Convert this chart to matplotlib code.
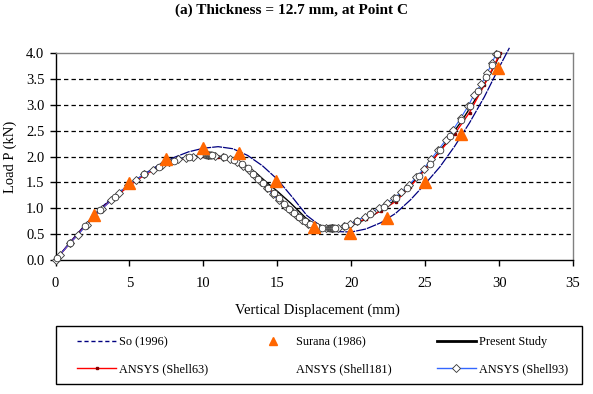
import matplotlib
matplotlib.use("Agg")
import matplotlib.pyplot as plt
from matplotlib.lines import Line2D
from matplotlib.patches import Rectangle

plt.rcParams['font.family'] = ['Liberation Serif', 'DejaVu Serif']

# ---------------- data ----------------
so_x = [0, 1, 2, 3, 4, 5, 6, 7, 8, 9, 10, 11, 12, 13, 14, 15, 16, 17, 18, 19, 20,
        21, 22, 23, 24, 25, 26, 27, 28, 29, 30, 30.7]
so_y = [0, 0.35, 0.68, 0.99, 1.24, 1.46, 1.66, 1.84, 1.98, 2.09, 2.16, 2.19, 2.15, 2.02,
        1.82, 1.56, 1.22, 0.86, 0.64, 0.55, 0.54, 0.6, 0.72, 0.9, 1.16, 1.47, 1.8, 2.2,
        2.65, 3.15, 3.72, 4.1]

surana_x = [2.6, 4.95, 7.5, 9.95, 12.4, 14.9, 17.45, 19.9, 22.4, 25.0, 27.4, 29.95]
surana_y = [0.87, 1.48, 1.95, 2.17, 2.07, 1.52, 0.63, 0.53, 0.81, 1.5, 2.44, 3.71]

present_x = [0, 1, 2, 3, 4, 5, 6, 7, 8, 9, 10, 11, 12, 12.8, 13.5, 14.2, 15, 15.9, 16.9,
             17.7, 18.5, 19.5, 20.5, 21.5, 22.5, 23.5, 24.5, 25.5, 26.5, 27.5, 28.5, 29.5, 30]
present_y = [0, 0.34, 0.66, 0.97, 1.22, 1.45, 1.65, 1.81, 1.93, 2.0, 2.03, 2.01, 1.95, 1.83,
             1.7, 1.52, 1.33, 1.1, 0.82, 0.65, 0.6, 0.62, 0.72, 0.87, 1.05, 1.3, 1.6, 1.93,
             2.3, 2.7, 3.15, 3.65, 3.93]

shell63_x = [0, 1, 2, 3, 4, 5, 6, 7, 8, 9, 10, 11, 12, 13, 14, 15, 16, 17, 18, 19, 20,
             21, 22, 23, 24, 25, 26, 27, 28, 29, 30, 30.07]
shell63_y = [0, 0.33, 0.65, 0.96, 1.21, 1.44, 1.64, 1.79, 1.91, 1.98, 2.01, 1.99, 1.91,
             1.76, 1.5, 1.22, 0.95, 0.74, 0.63, 0.61, 0.68, 0.8, 0.95, 1.13, 1.42, 1.75,
             2.1, 2.44, 2.85, 3.38, 3.95, 4.0]

shell181_x = [0.1, 1.0, 2.0, 3.0, 4.0, 5.0, 6.0, 7.0, 8.0, 9.0, 10.2, 10.25, 10.3, 10.35,
              10.4, 10.45, 10.5, 10.55, 10.6, 11.4, 12.1, 12.6, 13.0, 13.35, 13.7, 14.05,
              14.4, 14.75, 15.1, 15.45, 15.8, 16.15, 16.5, 16.85, 17.2, 17.6, 18.0, 18.5,
              18.55, 18.6, 18.65, 18.7, 18.75, 18.8, 18.85, 18.9, 19.6, 20.4, 21.3, 22.2,
              23.0, 23.8, 24.6, 25.3, 26.0, 26.7, 27.4, 28.0, 28.6, 29.1, 29.5, 29.85]
shell181_y = [0.03, 0.33, 0.66, 0.97, 1.21, 1.45, 1.66, 1.8, 1.92, 1.99, 2.02, 2.02, 2.02,
              2.02, 2.02, 2.02, 2.02, 2.02, 2.02, 1.99, 1.93, 1.86, 1.77, 1.67, 1.57, 1.48,
              1.39, 1.29, 1.19, 1.09, 0.99, 0.91, 0.83, 0.76, 0.7, 0.65, 0.62, 0.61, 0.61,
              0.61, 0.61, 0.61, 0.61, 0.61, 0.61, 0.61, 0.66, 0.75, 0.88, 1.03, 1.19, 1.39,
              1.62, 1.86, 2.12, 2.4, 2.7, 2.98, 3.27, 3.53, 3.76, 3.98]

shell93_x = [0, 0.3, 1.0, 1.5, 2.1, 2.6, 3.15, 3.76, 4.3, 4.9, 5.45, 6.0, 6.6, 7.2, 7.7,
             8.3, 8.8, 9.3, 9.8, 10.3, 10.8, 11.3, 11.8, 12.3, 12.7, 13.1, 13.5, 13.9,
             14.3, 14.7, 15.1, 15.5, 15.9, 16.3, 16.7, 17.1, 17.5, 17.9, 18.3, 18.7, 19.1,
             19.5, 19.9, 20.4, 20.9, 21.4, 21.9, 22.4, 22.9, 23.4, 23.9, 24.4, 24.9, 25.4,
             25.9, 26.4, 26.9, 27.4, 27.9, 28.3, 28.8, 29.2, 29.5, 29.8]
shell93_y = [0, 0.1, 0.33, 0.48, 0.68, 0.83, 0.99, 1.15, 1.3, 1.45, 1.55, 1.66, 1.74, 1.84,
             1.9, 1.95, 1.98, 2.0, 2.02, 2.02, 2.01, 1.99, 1.95, 1.89, 1.82, 1.73, 1.62,
             1.5, 1.39, 1.27, 1.15, 1.04, 0.94, 0.85, 0.77, 0.7, 0.65, 0.62, 0.61, 0.61,
             0.62, 0.65, 0.7, 0.76, 0.84, 0.92, 1.01, 1.1, 1.2, 1.31, 1.45, 1.6, 1.76, 1.95,
             2.13, 2.32, 2.52, 2.74, 2.97, 3.19, 3.4, 3.61, 3.8, 3.98]

x_ticks = [0, 5, 10, 15, 20, 25, 30, 35]
y_ticks = [0.0, 0.5, 1.0, 1.5, 2.0, 2.5, 3.0, 3.5, 4.0]
y_tick_labels = ["0.0", "0.5", "1.0", "1.5", "2.0", "2.5", "3.0", "3.5", "4.0"]

title = "(a) Thickness = 12.7 mm, at Point C"
xlabel = "Vertical Displacement (mm)"
ylabel = "Load P (kN)"
labels = ["So (1996)", "Surana (1986)", "Present Study",
          "ANSYS (Shell63)", "ANSYS (Shell181)", "ANSYS (Shell93)"]

# ---------------- figure ----------------
W, H = 593, 394
fig = plt.figure(figsize=(W / 100, H / 100), dpi=100)
L, R, T, B = 55.5, 573, 53, 260
ax = fig.add_axes([L / W, 1 - B / H, (R - L) / W, (B - T) / H])

ax.set_xlim(0, 35)
ax.set_ylim(0, 4)

for yv in y_ticks[1:-1]:
    ax.axhline(yv, color='black', lw=0.9, linestyle=(0, (3.5, 2.5)), zorder=0)

navy = '#000080'
orange = '#FF6600'

ax.plot(present_x, present_y, color='black', lw=1.0, zorder=2, clip_on=False)
ax.plot(so_x, so_y, color=navy, lw=0.9, linestyle=(0, (8, 0.8)), zorder=3, clip_on=False)
ax.plot(shell63_x, shell63_y, color='#FF0000', lw=1.0, marker='s', ms=2,
        mfc='#800000', mec='#800000', zorder=4, clip_on=False)
ax.plot(shell93_x, shell93_y, color='#3366FF', lw=0.8, marker='D', ms=4.2,
        mfc='white', mec='#333333', mew=0.6, zorder=5, clip_on=False)
ax.plot(shell181_x, shell181_y, linestyle='none', marker='o', ms=4.8,
        mfc='white', mec='#333333', mew=0.6, zorder=6, clip_on=False)
ax.plot(surana_x, surana_y, linestyle='none', marker='^', ms=8.5, color=orange,
        zorder=7, clip_on=False)

ax.set_xticks(x_ticks)
ax.set_xticklabels([str(v) for v in x_ticks], fontsize=10.5)
ax.set_yticks(y_ticks)
ax.set_yticklabels(y_tick_labels, fontsize=10.5)
ax.tick_params(axis='both', direction='out', length=4, width=1, color='black', pad=4)
ax.tick_params(axis='x', pad=8)

for s in ['left', 'bottom']:
    ax.spines[s].set_color('black')
    ax.spines[s].set_linewidth(1.0)
for s in ['top', 'right']:
    ax.spines[s].set_color('#808080')
    ax.spines[s].set_linewidth(1.0)

fig.text(291.5 / W, 1 - 10 / H, title, ha='center', va='center', fontsize=11,
         fontweight='bold')
fig.text(317 / W, 1 - 310 / H, xlabel, ha='center', va='center', fontsize=10.5)
fig.text(10 / W, 1 - 157 / H, ylabel, ha='center', va='center', fontsize=10.5,
         rotation=90)

fig.patches.append(Rectangle((56 / W, 1 - 384 / H), (582 - 56) / W, (384 - 326) / H,
                             transform=fig.transFigure, fill=False, edgecolor='black',
                             lw=1.0))

h_so = Line2D([], [], color=navy, lw=1.0, linestyle=(0, (3, 2)))
h_su = Line2D([], [], color=orange, linestyle='none', marker='^', ms=6)
h_pr = Line2D([], [], color='black', lw=2.0)
h_63 = Line2D([], [], color='#FF0000', lw=1.0, marker='s', ms=2, mfc='#800000',
              mec='#800000')
h_181 = Line2D([], [], linestyle='none')
h_93 = Line2D([], [], color='#3366FF', lw=1.0, marker='D', ms=4, mfc='white',
              mec='#333333', mew=0.6)

handles = [h_so, h_63, h_su, h_181, h_pr, h_93]
labs = [labels[0], labels[3], labels[1], labels[4], labels[2], labels[5]]
fig.legend(handles, labs, loc='center left', bbox_to_anchor=(77 / W, 1 - 355.5 / H),
           ncol=3, frameon=False, fontsize=8.8, handlelength=3.2, handletextpad=0.25,
           columnspacing=3.7, labelspacing=1.2, borderpad=0, borderaxespad=0)

fig.savefig("out.png", dpi=100)
